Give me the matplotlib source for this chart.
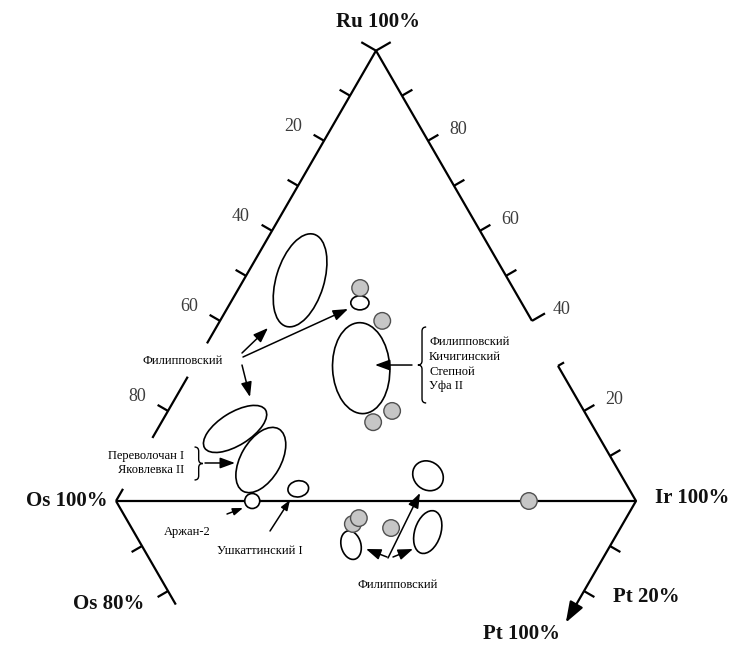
import numpy as np
import matplotlib
matplotlib.use("Agg")
import matplotlib.pyplot as plt
from matplotlib.patches import Ellipse, Circle, PathPatch
from matplotlib.path import Path

plt.rcParams['font.family'] = ['Liberation Serif', 'DejaVu Serif']

# ---------------- data ----------------
# open fields in the Ru-Os-Ir triangle (composition, %)
open_up_ru = [49.0, 29.5, 16.0, 9.1, 44.0, 2.7, 5.6]
open_up_os = [40.1, 38.1, 69.1, 67.6, 31.1, 63.6, 37.2]
open_up_ir = [10.9, 32.4, 14.9, 23.3, 24.9, 33.7, 57.2]
# single open point (Аржан-2)
arzhan_ru, arzhan_os, arzhan_ir = [0.0], [73.8], [26.2]
# grey analyses in the Ru-Os-Ir triangle
grey_up_ru = [47.3, 40.0, 20.0, 17.5, 0.0]
grey_up_os = [29.4, 28.8, 36.9, 41.8, 20.6]
grey_up_ir = [23.3, 31.2, 43.1, 40.7, 79.4]
# open fields in the Pt-Os-Ir triangle
open_low_pt = [9.8, 6.9]
open_low_os = [49.9, 36.6]
open_low_ir = [40.3, 56.5]
# grey analyses in the Pt-Os-Ir triangle
grey_low_pt = [5.1, 3.8, 6.0]
grey_low_os = [51.9, 51.4, 44.1]
grey_low_ir = [43.0, 44.8, 49.9]

left_ticks = [10, 20, 30, 40, 50, 60, 80]         # Os %
left_labels = [20, 40, 60, 80]
right_ticks = [90, 80, 70, 60, 50, 30, 20, 10]    # Ru %
right_labels = [80, 60, 40, 20]
pt_ticks = [10, 20]

# ---------------- shapes / style ----------------
open_up_w = [9.2, 11.0, 13.8, 13.8, 3.5, 4.0, 6.2]
open_up_h = [18.5, 17.5, 6.3, 7.7, 2.7, 3.1, 5.4]
open_up_a = [-17, 3, 32, 60, 0, 10, -40]
open_low_w = [3.8, 5.0]
open_low_h = [5.6, 8.5]
open_low_a = [15, -18]

S3 = np.sqrt(3) / 2
PX = 5.2  # pixels per unit


def up(ru, os_, ir):
    s = ru + os_ + ir
    return (ir + ru / 2) / s * 100, ru * S3 / s * 100


def low(pt, os_, ir):
    s = pt + os_ + ir
    return (ir + pt / 2) / s * 100, -pt * S3 / s * 100


fig = plt.figure(figsize=(7.45, 6.47), dpi=100)
ax = fig.add_axes([0, 0, 1, 1])
ax.set_xlim(-116 / PX, (745 - 116) / PX)
ax.set_ylim((501 - 647) / PX, 501 / PX)
ax.axis('off')

LW = 1.6
K = dict(color='black', lw=LW, solid_capstyle='butt', zorder=2)


def seg(p0, p1):
    ax.plot([p0[0], p1[0]], [p0[1], p1[1]], **K)


# left side Os-Ru param Os%
L = lambda o: up(100 - o, o, 0)
R = lambda r: up(r, 0, 100 - r)
LL = lambda p: low(p, 100 - p, 0)
LR = lambda p: low(p, 0, 100 - p)

for a, b in [(0, 65), (72.4, 86), (97.3, 100)]:
    seg(L(a), L(b))
for a, b in [(40, 100), (0, 30)]:
    seg(R(a), R(b))
seg(up(0, 100, 0), up(0, 0, 100))
seg(LL(0), LL(23))

nL = np.array([-0.866, 0.5])
nR = np.array([0.866, 0.5])
nLL = np.array([-0.866, -0.5])
nLR = np.array([0.866, -0.5])
tl = 12 / PX


def tick(p, n, length=tl):
    p = np.array(p)
    seg(p, p + n * length)


for t in left_ticks:
    tick(L(t), nL)
tick(L(0), nL, 17 / PX)
for t in right_ticks:
    tick(R(t), nR, 7 / PX if t == 30 else tl)
tick(R(100), nR, 17 / PX)
tick(R(40), nR, 15 / PX)
for t in pt_ticks:
    tick(LL(t), nLL)
    tick(LR(t), nLR)

# Pt axis with arrow
ax.annotate('', xy=LR(27), xytext=LR(0),
            arrowprops=dict(arrowstyle='-|>,head_length=0.7,head_width=0.25',
                            mutation_scale=18, lw=LW, color='black',
                            shrinkA=0, shrinkB=0), zorder=2)

tick_kw = dict(fontsize=13, color='#3c3c3c', ha='center', va='center')
for t in left_labels:
    x, y = L(t)
    ax.text(x - 31 / PX, y + 14 / PX, str(t), **tick_kw)
for t in right_labels:
    x, y = R(t)
    ax.text(x + 30 / PX, y + 11 / PX, str(t), **tick_kw)

bold = dict(fontsize=15, fontweight='bold', color='#111111')
ax.text(50.4, 92.1, 'Ru 100%', ha='center', va='center', **bold)
ax.text(-1.7, 0.0, 'Os 100%', ha='right', va='center', **bold)
ax.text(103.7, 0.6, 'Ir 100%', ha='left', va='center', **bold)
ax.text(-1.35, -19.8, 'Os 80%', ha='center', va='center', **bold)
ax.text(101.9, -18.5, 'Pt 20%', ha='center', va='center', **bold)
ax.text(77.9, -25.6, 'Pt 100%', ha='center', va='center', **bold)

# ---------------- marks ----------------
ELW = 1.2
for ru, o, ir, w, h, a in zip(open_up_ru, open_up_os, open_up_ir,
                              open_up_w, open_up_h, open_up_a):
    ax.add_patch(Ellipse(up(ru, o, ir), w, h, angle=a, fill=False,
                         ec='black', lw=ELW, zorder=3))
for pt, o, ir, w, h, a in zip(open_low_pt, open_low_os, open_low_ir,
                              open_low_w, open_low_h, open_low_a):
    ax.add_patch(Ellipse(low(pt, o, ir), w, h, angle=a, fill=False,
                         ec='black', lw=ELW, zorder=3))
for ru, o, ir in zip(arzhan_ru, arzhan_os, arzhan_ir):
    ax.add_patch(Circle(up(ru, o, ir), 7.5 / PX, fc='white', ec='black',
                        lw=ELW, zorder=4))
GR = 8.3 / PX
for ru, o, ir in zip(grey_up_ru, grey_up_os, grey_up_ir):
    ax.add_patch(Circle(up(ru, o, ir), GR, fc='#c6c6c6', ec='#505050',
                        lw=1.0, zorder=4))
for pt, o, ir in zip(grey_low_pt, grey_low_os, grey_low_ir):
    ax.add_patch(Circle(low(pt, o, ir), GR, fc='#c6c6c6', ec='#505050',
                        lw=1.0, zorder=4))

# ---------------- annotations ----------------
def arrow(p0, p1, ms=15):
    ax.annotate('', xy=p1, xytext=p0,
                arrowprops=dict(arrowstyle='-|>,head_length=0.6,head_width=0.22',
                                mutation_scale=ms, lw=1.1, color='black',
                                shrinkA=0, shrinkB=0), zorder=5)


arrow((24.23, 28.46), (29.23, 33.27))
arrow((24.42, 27.69), (44.62, 36.92))
arrow((24.23, 26.15), (25.77, 20.0))
arrow((56.92, 26.15), (49.81, 26.15))
arrow((17.12, 7.31), (22.88, 7.31))
arrow((21.35, -2.5), (24.42, -1.35), ms=10)
arrow((29.62, -5.77), (33.46, 0.19), ms=10)
arrow((52.31, -10.96), (58.46, 1.54))
arrow((52.12, -10.77), (48.08, -9.23))
arrow((53.27, -10.77), (57.12, -9.23))


def brace(x, ytop, ybot, s, w=0.8, h=0.8):
    ym = (ytop + ybot) / 2
    e = x - s * w
    tip = x + s * w
    verts = [(e, ytop), (x, ytop), (x, ytop - h),
             (x, ym + h), (x, ym), (tip, ym),
             (x, ym), (x, ym - h),
             (x, ybot + h), (x, ybot), (e, ybot)]
    codes = [Path.MOVETO, Path.CURVE3, Path.CURVE3,
             Path.LINETO, Path.CURVE3, Path.CURVE3,
             Path.CURVE3, Path.CURVE3,
             Path.LINETO, Path.CURVE3, Path.CURVE3]
    ax.add_patch(PathPatch(Path(verts, codes), fill=False, lw=1.0,
                           ec='black', zorder=5))


brace(58.85, 33.46, 18.85, -1)
brace(15.9, 10.38, 4.04, 1)

lab = dict(fontsize=9, color='black')
ax.text(12.9, 26.9, 'Филипповский', ha='center', va='center', **lab)
for yy, s in zip([30.6, 27.75, 24.9, 22.1],
                 ['Филипповский', 'Кичигинский', 'Степной', 'Уфа II']):
    ax.text(60.2, yy, s, ha='left', va='center', **lab)
ax.text(13.1, 8.65, 'Переволочан I', ha='right', va='center', **lab)
ax.text(13.1, 5.96, 'Яковлевка II', ha='right', va='center', **lab)
ax.text(13.65, -5.96, 'Аржан-2', ha='center', va='center', **lab)
ax.text(27.7, -9.6, 'Ушкаттинский I', ha='center', va='center', **lab)
ax.text(54.2, -16.15, 'Филипповский', ha='center', va='center', **lab)

fig.savefig('out.png', dpi=100, facecolor='white')
